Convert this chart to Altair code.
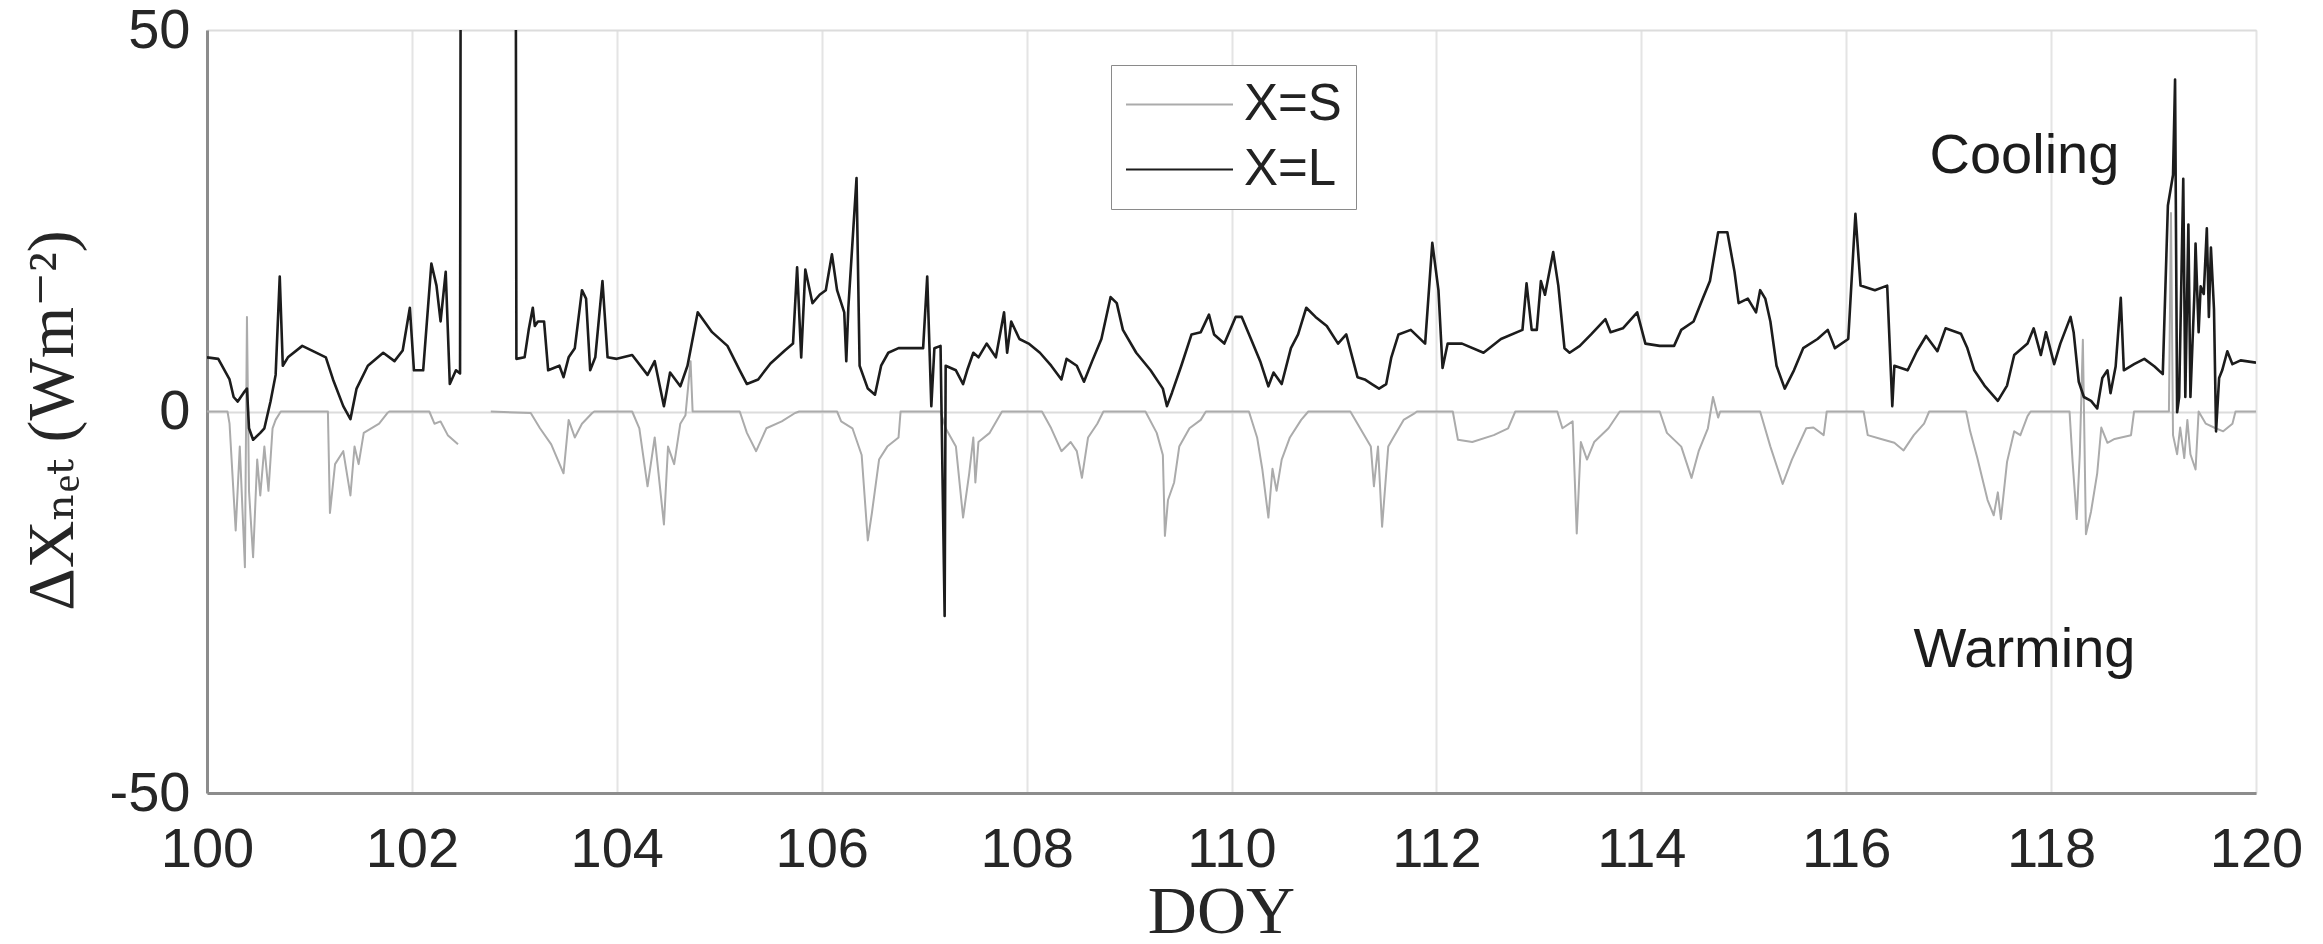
import altair as alt
import pandas as pd

# ---------------- data ----------------
# X = L  (net longwave difference)
doy_L = [100.00, 100.11, 100.22, 100.26, 100.30, 100.36, 100.39, 100.41, 100.45, 100.52,
         100.56, 100.62, 100.67, 100.71, 100.74, 100.79, 100.93, 101.16, 101.23, 101.33,
         101.40, 101.46, 101.57, 101.72, 101.83, 101.91, 101.98, 102.02, 102.11, 102.19,
         102.24, 102.28, 102.33, 102.37, 102.43, 102.47, 102.48, 103.01, 103.02, 103.10,
         103.14, 103.18, 103.20, 103.23, 103.29, 103.33, 103.44, 103.48, 103.53, 103.59,
         103.66, 103.70, 103.74, 103.79, 103.86, 103.91, 104.00, 104.15, 104.30, 104.37,
         104.46, 104.52, 104.62, 104.69, 104.79, 104.93, 105.08, 105.20, 105.27, 105.38,
         105.50, 105.64, 105.72, 105.76, 105.80, 105.84, 105.91, 105.98, 106.04, 106.10,
         106.15, 106.22, 106.24, 106.26, 106.34, 106.37, 106.45, 106.52, 106.58, 106.65,
         106.75, 106.99, 107.03, 107.07, 107.10, 107.16, 107.20, 107.21, 107.31, 107.38,
         107.42, 107.48, 107.53, 107.61, 107.70, 107.78, 107.81, 107.85, 107.93, 108.02,
         108.13, 108.24, 108.34, 108.39, 108.49, 108.56, 108.64, 108.73, 108.82, 108.88,
         108.94, 109.07, 109.21, 109.33, 109.37, 109.42, 109.51, 109.61, 109.70, 109.78,
         109.83, 109.93, 110.04, 110.10, 110.19, 110.28, 110.36, 110.41, 110.49, 110.58,
         110.65, 110.73, 110.82, 110.93, 111.04, 111.12, 111.23, 111.30, 111.37, 111.44,
         111.51, 111.56, 111.63, 111.75, 111.89, 111.96, 112.02, 112.06, 112.11, 112.25,
         112.46, 112.63, 112.84, 112.88, 112.93, 112.98, 113.02, 113.06, 113.14, 113.19,
         113.25, 113.30, 113.40, 113.51, 113.65, 113.70, 113.82, 113.96, 114.04, 114.18,
         114.32, 114.39, 114.51, 114.60, 114.67, 114.75, 114.84, 114.91, 114.95, 115.04,
         115.12, 115.16, 115.21, 115.26, 115.32, 115.40, 115.49, 115.58, 115.72, 115.82,
         115.89, 116.02, 116.09, 116.14, 116.28, 116.40, 116.45, 116.47, 116.60, 116.69,
         116.78, 116.89, 116.97, 117.12, 117.18, 117.25, 117.35, 117.48, 117.57, 117.64,
         117.77, 117.83, 117.90, 117.95, 118.03, 118.09, 118.19, 118.22, 118.27, 118.32,
         118.39, 118.45, 118.50, 118.55, 118.58, 118.63, 118.68, 118.71, 118.81, 118.91,
         119.01, 119.09, 119.14, 119.19, 119.21, 119.23, 119.25, 119.29, 119.31, 119.34,
         119.36, 119.40, 119.41, 119.44, 119.46, 119.49, 119.52, 119.54, 119.56, 119.59,
         119.61, 119.64, 119.67, 119.72, 119.77, 119.85, 120.00]
val_L = [7.1, 6.9, 4.2, 1.9, 1.3, 2.5, 3.0, -2.2, -3.7, -2.8,
         -2.2, 1.3, 4.8, 17.7, 6.0, 7.1, 8.6, 7.1, 4.2, 0.7,
         -1.0, 3.0, 6.0, 7.7, 6.6, 8.0, 13.6, 5.4, 5.4, 19.4,
         16.5, 11.8, 18.3, 3.6, 5.4, 5.0, 95.0, 95.0, 6.9, 7.1,
         10.7, 13.6, 11.2, 11.8, 11.8, 5.4, 6.0, 4.5, 7.1, 8.3,
         15.9, 14.8, 5.4, 7.1, 17.1, 7.1, 6.9, 7.4, 4.8, 6.6,
         0.7, 5.1, 3.3, 6.0, 13.0, 10.4, 8.6, 5.4, 3.6, 4.2,
         6.3, 8.0, 8.9, 18.9, 7.1, 18.6, 14.2, 15.3, 15.9, 20.6,
         15.9, 13.0, 6.6, 13.6, 30.6, 6.0, 3.0, 2.2, 6.0, 7.7,
         8.3, 8.3, 17.7, 0.7, 8.3, 8.6, -26.8, 6.0, 5.4, 3.6,
         5.4, 7.7, 7.1, 8.9, 7.1, 13.0, 7.7, 11.8, 9.5, 8.9,
         7.7, 6.0, 4.2, 6.9, 6.0, 3.9, 6.6, 9.5, 15.0, 14.2,
         10.7, 7.7, 5.4, 3.0, 0.7, 2.5, 6.0, 10.1, 10.4, 12.7,
         10.1, 8.9, 12.4, 12.4, 9.5, 6.6, 3.3, 5.1, 3.6, 8.3,
         10.1, 13.6, 12.4, 11.2, 8.9, 10.1, 4.5, 4.2, 3.6, 3.0,
         3.6, 7.1, 10.1, 10.7, 8.9, 22.1, 15.9, 5.7, 8.9, 8.9,
         7.7, 9.5, 10.7, 16.8, 10.7, 10.7, 17.1, 15.3, 20.9, 16.5,
         8.3, 7.7, 8.6, 10.1, 12.1, 10.4, 10.9, 13.0, 8.9, 8.6,
         8.6, 10.7, 11.8, 14.8, 17.1, 23.5, 23.5, 18.3, 14.2, 14.8,
         13.0, 15.9, 14.8, 11.8, 6.0, 3.0, 5.4, 8.3, 9.5, 10.7,
         8.3, 9.5, 25.9, 16.5, 15.9, 16.5, 0.7, 6.0, 5.4, 7.9,
         9.9, 7.9, 10.9, 10.2, 8.4, 5.4, 3.4, 1.4, 3.4, 7.4,
         8.9, 10.9, 7.4, 10.4, 6.2, 8.9, 12.4, 10.4, 3.9, 1.9,
         1.4, 0.4, 4.4, 5.4, 2.4, 5.9, 14.9, 5.4, 6.2, 6.9,
         5.9, 4.9, 27.0, 31.0, 43.5, -0.1, 1.9, 30.5, 1.9, 24.5,
         1.9, 15.9, 22.0, 10.4, 16.4, 15.4, 24.0, 12.4, 21.5, 13.4,
         -2.6, 4.4, 5.4, 7.9, 6.2, 6.7, 6.4]

# X = S  (net shortwave difference); None marks a gap in the record
doy_S = [100.00, 100.20, 100.22, 100.28, 100.32, 100.37, 100.39, 100.41, 100.45, 100.49,
         100.52, 100.56, 100.60, 100.64, 100.67, 100.72, 101.18, 101.20, 101.25, 101.33,
         101.40, 101.44, 101.48, 101.53, 101.68, 101.76, 101.78, 102.17, 102.22, 102.28,
         102.35, 102.45, 102.60, 102.77, 103.16, 103.25, 103.36, 103.48, 103.53, 103.59,
         103.66, 103.76, 103.78, 104.15, 104.22, 104.30, 104.37, 104.46, 104.50, 104.56,
         104.62, 104.67, 104.72, 104.74, 105.20, 105.27, 105.36, 105.46, 105.61, 105.74,
         105.78, 106.15, 106.19, 106.30, 106.39, 106.45, 106.49, 106.56, 106.64, 106.75,
         106.77, 107.16, 107.21, 107.31, 107.38, 107.44, 107.48, 107.50, 107.53, 107.64,
         107.76, 108.15, 108.24, 108.34, 108.43, 108.49, 108.54, 108.60, 108.69, 108.75,
         109.16, 109.27, 109.33, 109.35, 109.38, 109.44, 109.49, 109.59, 109.70, 109.75,
         110.17, 110.25, 110.30, 110.36, 110.40, 110.44, 110.49, 110.57, 110.68, 110.75,
         111.16, 111.23, 111.36, 111.39, 111.43, 111.47, 111.53, 111.58, 111.68, 111.79,
         111.81, 112.16, 112.21, 112.35, 112.56, 112.70, 112.77, 113.18, 113.23, 113.33,
         113.37, 113.41, 113.47, 113.54, 113.68, 113.79, 114.18, 114.25, 114.39, 114.49,
         114.56, 114.65, 114.70, 114.75, 114.77, 115.16, 115.26, 115.38, 115.47, 115.61,
         115.68, 115.78, 115.81, 116.17, 116.21, 116.34, 116.47, 116.56, 116.66, 116.76,
         116.81, 117.17, 117.21, 117.28, 117.38, 117.44, 117.48, 117.51, 117.57, 117.64,
         117.70, 117.77, 117.80, 118.18, 118.21, 118.25, 118.28, 118.31, 118.34, 118.39,
         118.45, 118.49, 118.55, 118.62, 118.78, 118.81, 119.15, 119.17, 119.19, 119.23,
         119.26, 119.30, 119.33, 119.36, 119.41, 119.44, 119.51, 119.59, 119.68, 119.77,
         119.80, 120.00]
val_S = [0.0, 0.0, -1.6, -15.6, -4.6, -20.4, 12.4, -10.4, -19.1, -6.3,
         -11.0, -4.6, -10.4, -2.2, -1.1, 0.0, 0.0, -13.3, -6.9, -5.2,
         -11.0, -4.6, -6.9, -2.8, -1.6, -0.2, 0.0, 0.0, -1.6, -1.3,
         -3.1, -4.3, None, 0.0, -0.2, -2.2, -4.3, -8.1, -1.1, -3.4,
         -1.6, -0.2, 0.0, 0.0, -2.2, -9.8, -3.4, -14.8, -4.6, -6.9,
         -1.6, -0.5, 6.6, 0.0, 0.0, -2.8, -5.2, -2.2, -1.3, -0.2,
         0.0, 0.0, -1.3, -2.2, -5.7, -16.9, -13.3, -6.3, -4.6, -3.4,
         0.0, 0.0, -2.2, -4.6, -13.9, -8.1, -3.4, -9.3, -4.0, -2.8,
         0.0, 0.0, -2.2, -5.2, -4.0, -5.2, -8.7, -3.4, -1.6, 0.0,
         0.0, -2.8, -5.7, -16.3, -11.6, -9.3, -4.6, -2.2, -1.1, 0.0,
         0.0, -3.4, -7.5, -13.9, -7.5, -10.4, -6.3, -3.4, -1.1, 0.0,
         0.0, -1.6, -4.6, -9.8, -4.6, -15.1, -4.6, -3.4, -1.1, -0.2,
         0.0, 0.0, -3.7, -4.0, -3.1, -2.2, 0.0, 0.0, -2.2, -1.3,
         -16.0, -4.0, -6.3, -4.0, -2.2, 0.0, 0.0, -2.8, -4.6, -8.7,
         -5.2, -2.2, 1.9, -0.8, 0.0, 0.0, -4.6, -9.5, -6.3, -2.2,
         -2.1, -3.1, 0.0, 0.0, -3.1, -3.6, -4.1, -5.1, -3.1, -1.6,
         0.0, 0.0, -2.6, -6.1, -11.6, -13.6, -10.6, -14.1, -6.6, -2.6,
         -3.1, -0.6, 0.0, 0.0, -6.6, -14.1, -5.6, 9.4, -16.1, -13.1,
         -8.1, -2.1, -4.1, -3.6, -3.1, 0.0, 0.0, 26.0, -3.1, -5.6,
         -2.1, -6.1, -1.1, -5.6, -7.6, 0.0, -1.6, -2.1, -2.6, -1.6,
         0.0, 0.0]

series_names = ["X=S", "X=L"]
series_colors = ["#ababab", "#1c1c1c"]

x_ticks = [100, 102, 104, 106, 108, 110, 112, 114, 116, 118, 120]
y_ticks = [-50, 0, 50]

note_text = ["Cooling", "Warming"]
note_doy = [117.74, 117.74]
note_val = [31.2, -33.5]


def frame(doys, vals, name):
    rows, seg = [], 0
    for d, v in zip(doys, vals):
        if v is None:
            seg += 1
            continue
        rows.append({"doy": d, "val": v, "series": name, "seg": f"{name}-{seg}"})
    return pd.DataFrame(rows)


df_S = frame(doy_S, val_S, "X=S")
df_L = frame(doy_L, val_L, "X=L")
df_notes = pd.DataFrame({"doy": note_doy, "val": note_val, "label": note_text})

x_enc = alt.X(
    "doy:Q",
    scale=alt.Scale(domain=[100, 120], nice=False, zero=False),
    axis=alt.Axis(
        values=x_ticks, title="DOY", labelExpr="'' + datum.value",
        labelFont="Liberation Sans", labelFontSize=56, labelColor="#262626",
        labelPadding=29, labelFlush=False, labelOverlap=False,
        ticks=False, tickSize=0,
        domainColor="#8c8c8c", domainWidth=3,
        grid=True, gridColor="#e4e4e4", gridWidth=2,
        titleFont="Liberation Serif", titleFontSize=68, titleFontWeight="normal",
        titleColor="#262626", titleBaseline="alphabetic", titleY=139, titleX=1014,
    ),
)
y_enc = alt.Y(
    "val:Q",
    scale=alt.Scale(domain=[-50, 50], nice=False),
    axis=alt.Axis(
        values=y_ticks, title="ΔXₙₑₜ  (Wm⁻²)", labelExpr="'' + datum.value",
        labelFont="Liberation Sans", labelFontSize=56, labelColor="#262626",
        labelPadding=17, ticks=False, tickSize=0,
        domainColor="#8c8c8c", domainWidth=3,
        grid=True, gridColor="#dcdcdc", gridWidth=2,
        titleFont="Liberation Serif, DejaVu Serif", titleFontSize=66,
        titleFontWeight="normal", titleColor="#262626",
        titleBaseline="alphabetic", titleAlign="center", titleAngle=270,
        titleX=-135, titleY=390,
    ),
)

legend = alt.Legend(
    title=None, orient="none", legendX=904, legendY=35,
    symbolType="stroke", symbolSize=11449, symbolStrokeWidth=2,
    clipHeight=51, rowPadding=13,
    labelFont="Liberation Sans", labelFontSize=51, labelColor="#222222",
    labelOffset=10, padding=14, strokeColor="#8a8a8a", fillColor="#ffffff",
)
color_enc = alt.Color(
    "series:N",
    scale=alt.Scale(domain=series_names, range=series_colors),
    legend=legend,
)

line_S = alt.Chart(df_S).mark_line(strokeWidth=2, clip=True, strokeJoin="round").encode(
    x=x_enc, y=y_enc, color=color_enc, detail="seg:N"
)
line_L = alt.Chart(df_L).mark_line(strokeWidth=2.6, clip=True, strokeJoin="round").encode(
    x=x_enc, y=y_enc, color=color_enc, detail="seg:N"
)
notes = alt.Chart(df_notes).mark_text(
    font="Liberation Sans", fontSize=56, color="#1c1c1c", align="center", baseline="alphabetic"
).encode(x="doy:Q", y="val:Q", text="label:N")

chart = (
    alt.layer(line_S, line_L, notes)
    .properties(
        width=2049, height=763,
        autosize=alt.AutoSizeParams(type="none"),
        padding={"left": 199, "top": 22, "right": 50, "bottom": 143},
    )
    .configure_view(stroke="#dedede", strokeWidth=2)
    .configure(font="Liberation Sans")
)

chart.save("out.html", embed_options={"renderer": "svg", "actions": False})
